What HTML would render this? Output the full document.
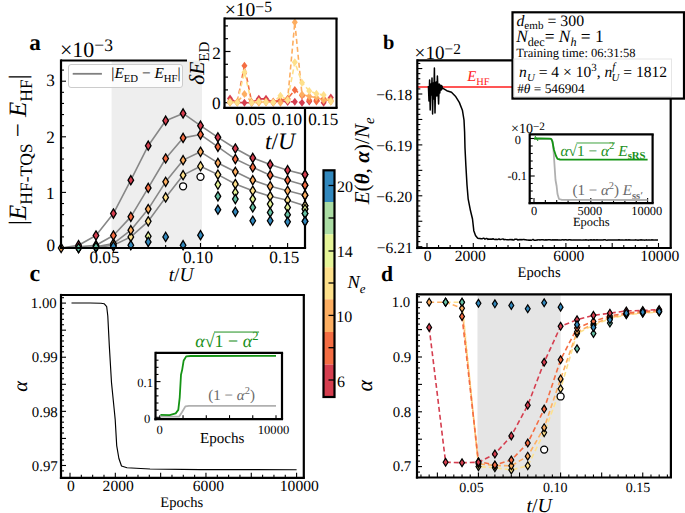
<!DOCTYPE html>
<html><head><meta charset="utf-8"><style>
html,body{margin:0;padding:0;background:#fff;overflow:hidden;}
svg{display:block;}
text{font-family:"Liberation Serif",serif;text-rendering:geometricPrecision;}
</style></head><body>
<svg width="685" height="513" viewBox="0 0 685 513">
<rect x="0" y="0" width="685" height="513" fill="#fff"/>
<rect x="111.6" y="60.5" width="90.4" height="187.5" fill="#eeeeee" stroke="none" stroke-width="0" />
<line x1="61.14" y1="248" x2="61.14" y2="245" stroke="#000" stroke-width="1.1" />
<line x1="78.56" y1="248" x2="78.56" y2="245" stroke="#000" stroke-width="1.1" />
<line x1="95.98" y1="248" x2="95.98" y2="245" stroke="#000" stroke-width="1.1" />
<line x1="113.4" y1="248" x2="113.4" y2="243" stroke="#000" stroke-width="1.1" />
<line x1="130.82" y1="248" x2="130.82" y2="245" stroke="#000" stroke-width="1.1" />
<line x1="148.24" y1="248" x2="148.24" y2="245" stroke="#000" stroke-width="1.1" />
<line x1="165.66" y1="248" x2="165.66" y2="245" stroke="#000" stroke-width="1.1" />
<line x1="183.08" y1="248" x2="183.08" y2="245" stroke="#000" stroke-width="1.1" />
<line x1="200.5" y1="248" x2="200.5" y2="243" stroke="#000" stroke-width="1.1" />
<line x1="217.92" y1="248" x2="217.92" y2="245" stroke="#000" stroke-width="1.1" />
<line x1="235.34" y1="248" x2="235.34" y2="245" stroke="#000" stroke-width="1.1" />
<line x1="252.76" y1="248" x2="252.76" y2="245" stroke="#000" stroke-width="1.1" />
<line x1="270.18" y1="248" x2="270.18" y2="245" stroke="#000" stroke-width="1.1" />
<line x1="287.6" y1="248" x2="287.6" y2="243" stroke="#000" stroke-width="1.1" />
<line x1="305.02" y1="248" x2="305.02" y2="245" stroke="#000" stroke-width="1.1" />
<line x1="61" y1="248" x2="66" y2="248" stroke="#000" stroke-width="1.1" />
<line x1="61" y1="236.88" x2="64" y2="236.88" stroke="#000" stroke-width="1.1" />
<line x1="61" y1="225.76" x2="64" y2="225.76" stroke="#000" stroke-width="1.1" />
<line x1="61" y1="214.64" x2="64" y2="214.64" stroke="#000" stroke-width="1.1" />
<line x1="61" y1="203.52" x2="64" y2="203.52" stroke="#000" stroke-width="1.1" />
<line x1="61" y1="192.4" x2="66" y2="192.4" stroke="#000" stroke-width="1.1" />
<line x1="61" y1="181.28" x2="64" y2="181.28" stroke="#000" stroke-width="1.1" />
<line x1="61" y1="170.16" x2="64" y2="170.16" stroke="#000" stroke-width="1.1" />
<line x1="61" y1="159.04" x2="64" y2="159.04" stroke="#000" stroke-width="1.1" />
<line x1="61" y1="147.92" x2="64" y2="147.92" stroke="#000" stroke-width="1.1" />
<line x1="61" y1="136.8" x2="66" y2="136.8" stroke="#000" stroke-width="1.1" />
<line x1="61" y1="125.68" x2="64" y2="125.68" stroke="#000" stroke-width="1.1" />
<line x1="61" y1="114.56" x2="64" y2="114.56" stroke="#000" stroke-width="1.1" />
<line x1="61" y1="103.44" x2="64" y2="103.44" stroke="#000" stroke-width="1.1" />
<line x1="61" y1="92.32" x2="64" y2="92.32" stroke="#000" stroke-width="1.1" />
<line x1="61" y1="81.2" x2="66" y2="81.2" stroke="#000" stroke-width="1.1" />
<line x1="61" y1="70.08" x2="64" y2="70.08" stroke="#000" stroke-width="1.1" />
<polyline points="61.14,248 78.56,245.22 95.98,235.49 113.4,213.53 130.82,180.17 148.24,145.7 165.66,120.68 183.08,113.45 200.5,125.68 217.92,137.36 235.34,148.48 252.76,157.93 270.18,164.6 287.6,170.16 305.02,174.61" fill="none" stroke="#878787" stroke-width="1.6" stroke-linejoin="round" />
<polyline points="61.14,248 78.56,246.89 95.98,245.22 113.4,235.49 130.82,216.86 148.24,187.95 165.66,158.48 183.08,137.91 200.5,134.58 217.92,146.81 235.34,159.04 252.76,167.38 270.18,175.16 287.6,180.17 305.02,185.17" fill="none" stroke="#878787" stroke-width="1.6" stroke-linejoin="round" />
<polyline points="61.14,248 78.56,248 95.98,246.89 113.4,243.55 130.82,230.21 148.24,209.08 165.66,181.84 183.08,160.15 200.5,151.81 217.92,162.93 235.34,171.83 252.76,180.17 270.18,186.28 287.6,190.73 305.02,195.18" fill="none" stroke="#878787" stroke-width="1.6" stroke-linejoin="round" />
<polyline points="61.14,248 78.56,248 95.98,247.44 113.4,245.22 130.82,236.88 148.24,221.31 165.66,197.4 183.08,175.16 200.5,166.27 217.92,174.61 235.34,184.06 252.76,190.73 270.18,196.29 287.6,200.18 305.02,205.74" fill="none" stroke="#878787" stroke-width="1.6" stroke-linejoin="round" />
<polygon points="61.14,243.4 63.94,248 61.14,252.6 58.34,248" fill="#fdae61" stroke="#000" stroke-width="1.3" stroke-linejoin="miter"/>
<polygon points="78.56,243.4 81.36,248 78.56,252.6 75.76,248" fill="#fee08b" stroke="#000" stroke-width="1.3" stroke-linejoin="miter"/>
<polygon points="78.56,243.4 81.36,248 78.56,252.6 75.76,248" fill="#fdae61" stroke="#000" stroke-width="1.3" stroke-linejoin="miter"/>
<polygon points="78.56,242.29 81.36,246.89 78.56,251.49 75.76,246.89" fill="#f46d43" stroke="#000" stroke-width="1.3" stroke-linejoin="miter"/>
<polygon points="78.56,240.62 81.36,245.22 78.56,249.82 75.76,245.22" fill="#d53e4f" stroke="#000" stroke-width="1.3" stroke-linejoin="miter"/>
<polygon points="95.98,242.84 98.78,247.44 95.98,252.04 93.18,247.44" fill="#fee08b" stroke="#000" stroke-width="1.3" stroke-linejoin="miter"/>
<polygon points="95.98,242.29 98.78,246.89 95.98,251.49 93.18,246.89" fill="#fdae61" stroke="#000" stroke-width="1.3" stroke-linejoin="miter"/>
<polygon points="95.98,240.62 98.78,245.22 95.98,249.82 93.18,245.22" fill="#f46d43" stroke="#000" stroke-width="1.3" stroke-linejoin="miter"/>
<polygon points="95.98,230.89 98.78,235.49 95.98,240.09 93.18,235.49" fill="#d53e4f" stroke="#000" stroke-width="1.3" stroke-linejoin="miter"/>
<polygon points="113.4,240.62 116.2,245.22 113.4,249.82 110.6,245.22" fill="#fee08b" stroke="#000" stroke-width="1.3" stroke-linejoin="miter"/>
<polygon points="113.4,238.95 116.2,243.55 113.4,248.15 110.6,243.55" fill="#fdae61" stroke="#000" stroke-width="1.3" stroke-linejoin="miter"/>
<polygon points="113.4,230.89 116.2,235.49 113.4,240.09 110.6,235.49" fill="#f46d43" stroke="#000" stroke-width="1.3" stroke-linejoin="miter"/>
<polygon points="113.4,208.93 116.2,213.53 113.4,218.13 110.6,213.53" fill="#d53e4f" stroke="#000" stroke-width="1.3" stroke-linejoin="miter"/>
<polygon points="130.82,232.28 133.62,236.88 130.82,241.48 128.02,236.88" fill="#fee08b" stroke="#000" stroke-width="1.3" stroke-linejoin="miter"/>
<polygon points="130.82,225.61 133.62,230.21 130.82,234.81 128.02,230.21" fill="#fdae61" stroke="#000" stroke-width="1.3" stroke-linejoin="miter"/>
<polygon points="130.82,212.26 133.62,216.86 130.82,221.46 128.02,216.86" fill="#f46d43" stroke="#000" stroke-width="1.3" stroke-linejoin="miter"/>
<polygon points="130.82,175.57 133.62,180.17 130.82,184.77 128.02,180.17" fill="#d53e4f" stroke="#000" stroke-width="1.3" stroke-linejoin="miter"/>
<polygon points="148.24,216.71 151.04,221.31 148.24,225.91 145.44,221.31" fill="#fee08b" stroke="#000" stroke-width="1.3" stroke-linejoin="miter"/>
<polygon points="148.24,204.48 151.04,209.08 148.24,213.68 145.44,209.08" fill="#fdae61" stroke="#000" stroke-width="1.3" stroke-linejoin="miter"/>
<polygon points="148.24,183.35 151.04,187.95 148.24,192.55 145.44,187.95" fill="#f46d43" stroke="#000" stroke-width="1.3" stroke-linejoin="miter"/>
<polygon points="148.24,141.1 151.04,145.7 148.24,150.3 145.44,145.7" fill="#d53e4f" stroke="#000" stroke-width="1.3" stroke-linejoin="miter"/>
<polygon points="165.66,192.8 168.46,197.4 165.66,202 162.86,197.4" fill="#fee08b" stroke="#000" stroke-width="1.3" stroke-linejoin="miter"/>
<polygon points="165.66,177.24 168.46,181.84 165.66,186.44 162.86,181.84" fill="#fdae61" stroke="#000" stroke-width="1.3" stroke-linejoin="miter"/>
<polygon points="165.66,153.88 168.46,158.48 165.66,163.08 162.86,158.48" fill="#f46d43" stroke="#000" stroke-width="1.3" stroke-linejoin="miter"/>
<polygon points="165.66,116.08 168.46,120.68 165.66,125.28 162.86,120.68" fill="#d53e4f" stroke="#000" stroke-width="1.3" stroke-linejoin="miter"/>
<polygon points="183.08,170.56 185.88,175.16 183.08,179.76 180.28,175.16" fill="#fee08b" stroke="#000" stroke-width="1.3" stroke-linejoin="miter"/>
<polygon points="183.08,155.55 185.88,160.15 183.08,164.75 180.28,160.15" fill="#fdae61" stroke="#000" stroke-width="1.3" stroke-linejoin="miter"/>
<polygon points="183.08,133.31 185.88,137.91 183.08,142.51 180.28,137.91" fill="#f46d43" stroke="#000" stroke-width="1.3" stroke-linejoin="miter"/>
<polygon points="183.08,108.85 185.88,113.45 183.08,118.05 180.28,113.45" fill="#d53e4f" stroke="#000" stroke-width="1.3" stroke-linejoin="miter"/>
<polygon points="200.5,161.67 203.3,166.27 200.5,170.87 197.7,166.27" fill="#fee08b" stroke="#000" stroke-width="1.3" stroke-linejoin="miter"/>
<polygon points="200.5,147.21 203.3,151.81 200.5,156.41 197.7,151.81" fill="#fdae61" stroke="#000" stroke-width="1.3" stroke-linejoin="miter"/>
<polygon points="200.5,129.98 203.3,134.58 200.5,139.18 197.7,134.58" fill="#f46d43" stroke="#000" stroke-width="1.3" stroke-linejoin="miter"/>
<polygon points="200.5,121.08 203.3,125.68 200.5,130.28 197.7,125.68" fill="#d53e4f" stroke="#000" stroke-width="1.3" stroke-linejoin="miter"/>
<polygon points="217.92,170.01 220.72,174.61 217.92,179.21 215.12,174.61" fill="#fee08b" stroke="#000" stroke-width="1.3" stroke-linejoin="miter"/>
<polygon points="217.92,158.33 220.72,162.93 217.92,167.53 215.12,162.93" fill="#fdae61" stroke="#000" stroke-width="1.3" stroke-linejoin="miter"/>
<polygon points="217.92,142.21 220.72,146.81 217.92,151.41 215.12,146.81" fill="#f46d43" stroke="#000" stroke-width="1.3" stroke-linejoin="miter"/>
<polygon points="217.92,132.76 220.72,137.36 217.92,141.96 215.12,137.36" fill="#d53e4f" stroke="#000" stroke-width="1.3" stroke-linejoin="miter"/>
<polygon points="235.34,179.46 238.14,184.06 235.34,188.66 232.54,184.06" fill="#fee08b" stroke="#000" stroke-width="1.3" stroke-linejoin="miter"/>
<polygon points="235.34,167.23 238.14,171.83 235.34,176.43 232.54,171.83" fill="#fdae61" stroke="#000" stroke-width="1.3" stroke-linejoin="miter"/>
<polygon points="235.34,154.44 238.14,159.04 235.34,163.64 232.54,159.04" fill="#f46d43" stroke="#000" stroke-width="1.3" stroke-linejoin="miter"/>
<polygon points="235.34,143.88 238.14,148.48 235.34,153.08 232.54,148.48" fill="#d53e4f" stroke="#000" stroke-width="1.3" stroke-linejoin="miter"/>
<polygon points="252.76,186.13 255.56,190.73 252.76,195.33 249.96,190.73" fill="#fee08b" stroke="#000" stroke-width="1.3" stroke-linejoin="miter"/>
<polygon points="252.76,175.57 255.56,180.17 252.76,184.77 249.96,180.17" fill="#fdae61" stroke="#000" stroke-width="1.3" stroke-linejoin="miter"/>
<polygon points="252.76,162.78 255.56,167.38 252.76,171.98 249.96,167.38" fill="#f46d43" stroke="#000" stroke-width="1.3" stroke-linejoin="miter"/>
<polygon points="252.76,153.33 255.56,157.93 252.76,162.53 249.96,157.93" fill="#d53e4f" stroke="#000" stroke-width="1.3" stroke-linejoin="miter"/>
<polygon points="270.18,191.69 272.98,196.29 270.18,200.89 267.38,196.29" fill="#fee08b" stroke="#000" stroke-width="1.3" stroke-linejoin="miter"/>
<polygon points="270.18,181.68 272.98,186.28 270.18,190.88 267.38,186.28" fill="#fdae61" stroke="#000" stroke-width="1.3" stroke-linejoin="miter"/>
<polygon points="270.18,170.56 272.98,175.16 270.18,179.76 267.38,175.16" fill="#f46d43" stroke="#000" stroke-width="1.3" stroke-linejoin="miter"/>
<polygon points="270.18,160 272.98,164.6 270.18,169.2 267.38,164.6" fill="#d53e4f" stroke="#000" stroke-width="1.3" stroke-linejoin="miter"/>
<polygon points="287.6,195.58 290.4,200.18 287.6,204.78 284.8,200.18" fill="#fee08b" stroke="#000" stroke-width="1.3" stroke-linejoin="miter"/>
<polygon points="287.6,186.13 290.4,190.73 287.6,195.33 284.8,190.73" fill="#fdae61" stroke="#000" stroke-width="1.3" stroke-linejoin="miter"/>
<polygon points="287.6,175.57 290.4,180.17 287.6,184.77 284.8,180.17" fill="#f46d43" stroke="#000" stroke-width="1.3" stroke-linejoin="miter"/>
<polygon points="287.6,165.56 290.4,170.16 287.6,174.76 284.8,170.16" fill="#d53e4f" stroke="#000" stroke-width="1.3" stroke-linejoin="miter"/>
<polygon points="305.02,201.14 307.82,205.74 305.02,210.34 302.22,205.74" fill="#fee08b" stroke="#000" stroke-width="1.3" stroke-linejoin="miter"/>
<polygon points="305.02,190.58 307.82,195.18 305.02,199.78 302.22,195.18" fill="#fdae61" stroke="#000" stroke-width="1.3" stroke-linejoin="miter"/>
<polygon points="305.02,180.57 307.82,185.17 305.02,189.77 302.22,185.17" fill="#f46d43" stroke="#000" stroke-width="1.3" stroke-linejoin="miter"/>
<polygon points="305.02,170.01 307.82,174.61 305.02,179.21 302.22,174.61" fill="#d53e4f" stroke="#000" stroke-width="1.3" stroke-linejoin="miter"/>
<polygon points="78.56,243.4 81.36,248 78.56,252.6 75.76,248" fill="#66c2a5" stroke="#000" stroke-width="1.3" stroke-linejoin="miter"/>
<polygon points="95.98,242.29 98.78,246.89 95.98,251.49 93.18,246.89" fill="#66c2a5" stroke="#000" stroke-width="1.3" stroke-linejoin="miter"/>
<polygon points="113.4,241.73 116.2,246.33 113.4,250.93 110.6,246.33" fill="#3288bd" stroke="#000" stroke-width="1.3" stroke-linejoin="miter"/>
<polygon points="130.82,240.62 133.62,245.22 130.82,249.82 128.02,245.22" fill="#3288bd" stroke="#000" stroke-width="1.3" stroke-linejoin="miter"/>
<polygon points="148.24,231.72 151.04,236.32 148.24,240.92 145.44,236.32" fill="#e6f598" stroke="#000" stroke-width="1.3" stroke-linejoin="miter"/>
<polygon points="148.24,237.28 151.04,241.88 148.24,246.48 145.44,241.88" fill="#3288bd" stroke="#000" stroke-width="1.3" stroke-linejoin="miter"/>
<polygon points="165.66,232.28 168.46,236.88 165.66,241.48 162.86,236.88" fill="#3288bd" stroke="#000" stroke-width="1.3" stroke-linejoin="miter"/>
<polygon points="183.08,240.62 185.88,245.22 183.08,249.82 180.28,245.22" fill="#3288bd" stroke="#000" stroke-width="1.3" stroke-linejoin="miter"/>
<polygon points="200.5,230.61 203.3,235.21 200.5,239.81 197.7,235.21" fill="#3288bd" stroke="#000" stroke-width="1.3" stroke-linejoin="miter"/>
<polygon points="217.92,180.02 220.72,184.62 217.92,189.22 215.12,184.62" fill="#e6f598" stroke="#000" stroke-width="1.3" stroke-linejoin="miter"/>
<polygon points="217.92,191.69 220.72,196.29 217.92,200.89 215.12,196.29" fill="#66c2a5" stroke="#000" stroke-width="1.3" stroke-linejoin="miter"/>
<polygon points="217.92,205.04 220.72,209.64 217.92,214.24 215.12,209.64" fill="#3288bd" stroke="#000" stroke-width="1.3" stroke-linejoin="miter"/>
<polygon points="235.34,187.8 238.14,192.4 235.34,197 232.54,192.4" fill="#e6f598" stroke="#000" stroke-width="1.3" stroke-linejoin="miter"/>
<polygon points="235.34,194.47 238.14,199.07 235.34,203.67 232.54,199.07" fill="#66c2a5" stroke="#000" stroke-width="1.3" stroke-linejoin="miter"/>
<polygon points="235.34,207.26 238.14,211.86 235.34,216.46 232.54,211.86" fill="#3288bd" stroke="#000" stroke-width="1.3" stroke-linejoin="miter"/>
<polygon points="252.76,194.47 255.56,199.07 252.76,203.67 249.96,199.07" fill="#e6f598" stroke="#000" stroke-width="1.3" stroke-linejoin="miter"/>
<polygon points="252.76,202.81 255.56,207.41 252.76,212.01 249.96,207.41" fill="#66c2a5" stroke="#000" stroke-width="1.3" stroke-linejoin="miter"/>
<polygon points="252.76,216.16 255.56,220.76 252.76,225.36 249.96,220.76" fill="#3288bd" stroke="#000" stroke-width="1.3" stroke-linejoin="miter"/>
<polygon points="270.18,199.48 272.98,204.08 270.18,208.68 267.38,204.08" fill="#e6f598" stroke="#000" stroke-width="1.3" stroke-linejoin="miter"/>
<polygon points="270.18,207.82 272.98,212.42 270.18,217.02 267.38,212.42" fill="#66c2a5" stroke="#000" stroke-width="1.3" stroke-linejoin="miter"/>
<polygon points="270.18,216.16 272.98,220.76 270.18,225.36 267.38,220.76" fill="#3288bd" stroke="#000" stroke-width="1.3" stroke-linejoin="miter"/>
<polygon points="287.6,202.81 290.4,207.41 287.6,212.01 284.8,207.41" fill="#e6f598" stroke="#000" stroke-width="1.3" stroke-linejoin="miter"/>
<polygon points="287.6,210.04 290.4,214.64 287.6,219.24 284.8,214.64" fill="#66c2a5" stroke="#000" stroke-width="1.3" stroke-linejoin="miter"/>
<polygon points="287.6,217.27 290.4,221.87 287.6,226.47 284.8,221.87" fill="#3288bd" stroke="#000" stroke-width="1.3" stroke-linejoin="miter"/>
<polygon points="305.02,204.48 307.82,209.08 305.02,213.68 302.22,209.08" fill="#e6f598" stroke="#000" stroke-width="1.3" stroke-linejoin="miter"/>
<polygon points="305.02,208.93 307.82,213.53 305.02,218.13 302.22,213.53" fill="#66c2a5" stroke="#000" stroke-width="1.3" stroke-linejoin="miter"/>
<polygon points="305.02,216.71 307.82,221.31 305.02,225.91 302.22,221.31" fill="#3288bd" stroke="#000" stroke-width="1.3" stroke-linejoin="miter"/>
<circle cx="183.08" cy="186.28" r="3.5" fill="#fff" stroke="#000" stroke-width="1.3"/>
<circle cx="200.5" cy="176.83" r="3.5" fill="#fff" stroke="#000" stroke-width="1.3"/>
<rect x="68.5" y="64.5" width="114" height="23" fill="#ffffff" stroke="#cccccc" stroke-width="1" rx="2.5" fill-opacity="0.8"/>
<line x1="72.7" y1="73.8" x2="101.9" y2="73.8" stroke="#808080" stroke-width="1.8" />
<line x1="61" y1="60.5" x2="187" y2="60.5" stroke="#000" stroke-width="2.2" />
<line x1="61" y1="59.4" x2="61" y2="249.1" stroke="#000" stroke-width="2.2" />
<line x1="59.9" y1="248" x2="306.1" y2="248" stroke="#000" stroke-width="2.2" />
<line x1="305" y1="108" x2="305" y2="248" stroke="#000" stroke-width="2.2" />
<polygon points="305.02,201.14 307.82,205.74 305.02,210.34 302.22,205.74" fill="#fee08b" stroke="#000" stroke-width="1.3" stroke-linejoin="miter"/>
<polygon points="305.02,190.58 307.82,195.18 305.02,199.78 302.22,195.18" fill="#fdae61" stroke="#000" stroke-width="1.3" stroke-linejoin="miter"/>
<polygon points="305.02,180.57 307.82,185.17 305.02,189.77 302.22,185.17" fill="#f46d43" stroke="#000" stroke-width="1.3" stroke-linejoin="miter"/>
<polygon points="305.02,170.01 307.82,174.61 305.02,179.21 302.22,174.61" fill="#d53e4f" stroke="#000" stroke-width="1.3" stroke-linejoin="miter"/>
<polygon points="305.02,204.48 307.82,209.08 305.02,213.68 302.22,209.08" fill="#e6f598" stroke="#000" stroke-width="1.3" stroke-linejoin="miter"/>
<polygon points="305.02,208.93 307.82,213.53 305.02,218.13 302.22,213.53" fill="#66c2a5" stroke="#000" stroke-width="1.3" stroke-linejoin="miter"/>
<polygon points="305.02,216.71 307.82,221.31 305.02,225.91 302.22,221.31" fill="#3288bd" stroke="#000" stroke-width="1.3" stroke-linejoin="miter"/>
<rect x="224.5" y="18.5" width="112" height="89.3" fill="#fff" stroke="none" stroke-width="0" />
<line x1="224.5" y1="102.7" x2="230.5" y2="102.7" stroke="#000" stroke-width="1.2" />
<line x1="224.5" y1="89.9" x2="228" y2="89.9" stroke="#000" stroke-width="1.2" />
<line x1="224.5" y1="77.1" x2="228" y2="77.1" stroke="#000" stroke-width="1.2" />
<line x1="224.5" y1="64.3" x2="228" y2="64.3" stroke="#000" stroke-width="1.2" />
<line x1="224.5" y1="51.5" x2="230.5" y2="51.5" stroke="#000" stroke-width="1.2" />
<line x1="224.5" y1="38.7" x2="228" y2="38.7" stroke="#000" stroke-width="1.2" />
<line x1="224.5" y1="25.9" x2="228" y2="25.9" stroke="#000" stroke-width="1.2" />
<polyline points="230.02,98.6 237.22,102.44 244.42,102.7 251.62,102.7 258.82,98.86 266.02,98.86 273.22,102.44 280.42,100.65 287.62,101.93 294.82,101.68 302.02,102.7 309.22,101.42 316.42,100.14 323.62,102.7 330.82,97.58" fill="none" stroke="#d53e4f" stroke-width="1.6" stroke-linejoin="round" stroke-dasharray="5,3"/>
<polyline points="230.02,101.42 237.22,102.19 244.42,65.84 251.62,101.93 258.82,101.42 266.02,102.19 273.22,101.42 280.42,100.14 287.62,98.86 294.82,89.9 302.02,95.53 309.22,100.14 316.42,101.42 323.62,98.86 330.82,101.42" fill="none" stroke="#f46d43" stroke-width="1.6" stroke-linejoin="round" stroke-dasharray="5,3"/>
<polyline points="230.02,102.7 237.22,101.93 244.42,94 251.62,102.19 258.82,102.7 266.02,101.42 273.22,102.7 280.42,102.7 287.62,99.63 294.82,22.32 302.02,94.51 309.22,96.3 316.42,97.58 323.62,100.14 330.82,100.14" fill="none" stroke="#fdae61" stroke-width="1.6" stroke-linejoin="round" stroke-dasharray="5,3"/>
<polyline points="230.02,101.93 237.22,102.7 244.42,72.24 251.62,102.7 258.82,101.42 266.02,102.19 273.22,102.19 280.42,95.79 287.62,100.14 294.82,62.25 302.02,82.73 309.22,90.92 316.42,93.74 323.62,95.02 330.82,101.42" fill="none" stroke="#fee08b" stroke-width="1.6" stroke-linejoin="round" stroke-dasharray="5,3"/>
<polygon points="230.02,94.6 233.02,98.6 230.02,102.6 227.02,98.6" fill="#d53e4f"/>
<polygon points="237.22,98.44 240.22,102.44 237.22,106.44 234.22,102.44" fill="#d53e4f"/>
<polygon points="244.42,98.7 247.42,102.7 244.42,106.7 241.42,102.7" fill="#d53e4f"/>
<polygon points="251.62,98.7 254.62,102.7 251.62,106.7 248.62,102.7" fill="#d53e4f"/>
<polygon points="258.82,94.86 261.82,98.86 258.82,102.86 255.82,98.86" fill="#d53e4f"/>
<polygon points="266.02,94.86 269.02,98.86 266.02,102.86 263.02,98.86" fill="#d53e4f"/>
<polygon points="273.22,98.44 276.22,102.44 273.22,106.44 270.22,102.44" fill="#d53e4f"/>
<polygon points="280.42,96.65 283.42,100.65 280.42,104.65 277.42,100.65" fill="#d53e4f"/>
<polygon points="287.62,97.93 290.62,101.93 287.62,105.93 284.62,101.93" fill="#d53e4f"/>
<polygon points="294.82,97.68 297.82,101.68 294.82,105.68 291.82,101.68" fill="#d53e4f"/>
<polygon points="302.02,98.7 305.02,102.7 302.02,106.7 299.02,102.7" fill="#d53e4f"/>
<polygon points="309.22,97.42 312.22,101.42 309.22,105.42 306.22,101.42" fill="#d53e4f"/>
<polygon points="316.42,96.14 319.42,100.14 316.42,104.14 313.42,100.14" fill="#d53e4f"/>
<polygon points="323.62,98.7 326.62,102.7 323.62,106.7 320.62,102.7" fill="#d53e4f"/>
<polygon points="330.82,93.58 333.82,97.58 330.82,101.58 327.82,97.58" fill="#d53e4f"/>
<polygon points="230.02,97.42 233.02,101.42 230.02,105.42 227.02,101.42" fill="#f46d43"/>
<polygon points="237.22,98.19 240.22,102.19 237.22,106.19 234.22,102.19" fill="#f46d43"/>
<polygon points="244.42,61.84 247.42,65.84 244.42,69.84 241.42,65.84" fill="#f46d43"/>
<polygon points="251.62,97.93 254.62,101.93 251.62,105.93 248.62,101.93" fill="#f46d43"/>
<polygon points="258.82,97.42 261.82,101.42 258.82,105.42 255.82,101.42" fill="#f46d43"/>
<polygon points="266.02,98.19 269.02,102.19 266.02,106.19 263.02,102.19" fill="#f46d43"/>
<polygon points="273.22,97.42 276.22,101.42 273.22,105.42 270.22,101.42" fill="#f46d43"/>
<polygon points="280.42,96.14 283.42,100.14 280.42,104.14 277.42,100.14" fill="#f46d43"/>
<polygon points="287.62,94.86 290.62,98.86 287.62,102.86 284.62,98.86" fill="#f46d43"/>
<polygon points="294.82,85.9 297.82,89.9 294.82,93.9 291.82,89.9" fill="#f46d43"/>
<polygon points="302.02,91.53 305.02,95.53 302.02,99.53 299.02,95.53" fill="#f46d43"/>
<polygon points="309.22,96.14 312.22,100.14 309.22,104.14 306.22,100.14" fill="#f46d43"/>
<polygon points="316.42,97.42 319.42,101.42 316.42,105.42 313.42,101.42" fill="#f46d43"/>
<polygon points="323.62,94.86 326.62,98.86 323.62,102.86 320.62,98.86" fill="#f46d43"/>
<polygon points="330.82,97.42 333.82,101.42 330.82,105.42 327.82,101.42" fill="#f46d43"/>
<polygon points="230.02,98.7 233.02,102.7 230.02,106.7 227.02,102.7" fill="#fdae61"/>
<polygon points="237.22,97.93 240.22,101.93 237.22,105.93 234.22,101.93" fill="#fdae61"/>
<polygon points="244.42,90 247.42,94 244.42,98 241.42,94" fill="#fdae61"/>
<polygon points="251.62,98.19 254.62,102.19 251.62,106.19 248.62,102.19" fill="#fdae61"/>
<polygon points="258.82,98.7 261.82,102.7 258.82,106.7 255.82,102.7" fill="#fdae61"/>
<polygon points="266.02,97.42 269.02,101.42 266.02,105.42 263.02,101.42" fill="#fdae61"/>
<polygon points="273.22,98.7 276.22,102.7 273.22,106.7 270.22,102.7" fill="#fdae61"/>
<polygon points="280.42,98.7 283.42,102.7 280.42,106.7 277.42,102.7" fill="#fdae61"/>
<polygon points="287.62,95.63 290.62,99.63 287.62,103.63 284.62,99.63" fill="#fdae61"/>
<polygon points="294.82,18.32 297.82,22.32 294.82,26.32 291.82,22.32" fill="#fdae61"/>
<polygon points="302.02,90.51 305.02,94.51 302.02,98.51 299.02,94.51" fill="#fdae61"/>
<polygon points="309.22,92.3 312.22,96.3 309.22,100.3 306.22,96.3" fill="#fdae61"/>
<polygon points="316.42,93.58 319.42,97.58 316.42,101.58 313.42,97.58" fill="#fdae61"/>
<polygon points="323.62,96.14 326.62,100.14 323.62,104.14 320.62,100.14" fill="#fdae61"/>
<polygon points="330.82,96.14 333.82,100.14 330.82,104.14 327.82,100.14" fill="#fdae61"/>
<polygon points="230.02,97.93 233.02,101.93 230.02,105.93 227.02,101.93" fill="#fee08b"/>
<polygon points="237.22,98.7 240.22,102.7 237.22,106.7 234.22,102.7" fill="#fee08b"/>
<polygon points="244.42,68.24 247.42,72.24 244.42,76.24 241.42,72.24" fill="#fee08b"/>
<polygon points="251.62,98.7 254.62,102.7 251.62,106.7 248.62,102.7" fill="#fee08b"/>
<polygon points="258.82,97.42 261.82,101.42 258.82,105.42 255.82,101.42" fill="#fee08b"/>
<polygon points="266.02,98.19 269.02,102.19 266.02,106.19 263.02,102.19" fill="#fee08b"/>
<polygon points="273.22,98.19 276.22,102.19 273.22,106.19 270.22,102.19" fill="#fee08b"/>
<polygon points="280.42,91.79 283.42,95.79 280.42,99.79 277.42,95.79" fill="#fee08b"/>
<polygon points="287.62,96.14 290.62,100.14 287.62,104.14 284.62,100.14" fill="#fee08b"/>
<polygon points="294.82,58.25 297.82,62.25 294.82,66.25 291.82,62.25" fill="#fee08b"/>
<polygon points="302.02,78.73 305.02,82.73 302.02,86.73 299.02,82.73" fill="#fee08b"/>
<polygon points="309.22,86.92 312.22,90.92 309.22,94.92 306.22,90.92" fill="#fee08b"/>
<polygon points="316.42,89.74 319.42,93.74 316.42,97.74 313.42,93.74" fill="#fee08b"/>
<polygon points="323.62,91.02 326.62,95.02 323.62,99.02 320.62,95.02" fill="#fee08b"/>
<polygon points="330.82,97.42 333.82,101.42 330.82,105.42 327.82,101.42" fill="#fee08b"/>
<line x1="224.5" y1="18.5" x2="337.6" y2="18.5" stroke="#000" stroke-width="2.2" />
<line x1="224.5" y1="17.4" x2="224.5" y2="108.9" stroke="#000" stroke-width="2.2" />
<line x1="223.4" y1="107.8" x2="337.6" y2="107.8" stroke="#000" stroke-width="2.2" />
<line x1="336.5" y1="18.5" x2="336.5" y2="107.8" stroke="#000" stroke-width="2.2" />
<rect x="323.5" y="170.5" width="11" height="31.5" fill="#3288bd" stroke="none" stroke-width="0" />
<rect x="323.5" y="202" width="11" height="32.4" fill="#abdda4" stroke="none" stroke-width="0" />
<rect x="323.5" y="234.4" width="11" height="32.8" fill="#e6f598" stroke="none" stroke-width="0" />
<rect x="323.5" y="267.2" width="11" height="32.1" fill="#fee08b" stroke="none" stroke-width="0" />
<rect x="323.5" y="299.3" width="11" height="32.7" fill="#fdae61" stroke="none" stroke-width="0" />
<rect x="323.5" y="332" width="11" height="32.6" fill="#f46d43" stroke="none" stroke-width="0" />
<rect x="323.5" y="364.6" width="11" height="32.4" fill="#d53e4f" stroke="none" stroke-width="0" />
<rect x="323.5" y="170.3" width="11" height="226.7" fill="none" stroke="#000" stroke-width="2.2" />
<line x1="328.5" y1="185.5" x2="334.5" y2="185.5" stroke="#000" stroke-width="1.3" />
<line x1="328.5" y1="218" x2="334.5" y2="218" stroke="#000" stroke-width="1.3" />
<line x1="328.5" y1="251" x2="334.5" y2="251" stroke="#000" stroke-width="1.3" />
<line x1="328.5" y1="283" x2="334.5" y2="283" stroke="#000" stroke-width="1.3" />
<line x1="328.5" y1="315.4" x2="334.5" y2="315.4" stroke="#000" stroke-width="1.3" />
<line x1="328.5" y1="347.7" x2="334.5" y2="347.7" stroke="#000" stroke-width="1.3" />
<line x1="328.5" y1="380" x2="334.5" y2="380" stroke="#000" stroke-width="1.3" />
<line x1="417.3" y1="86.9" x2="670.7" y2="86.9" stroke="#ff5555" stroke-width="2" />
<line x1="417.3" y1="246.7" x2="422.3" y2="246.7" stroke="#000" stroke-width="1.1" />
<line x1="417.3" y1="241.61" x2="420.3" y2="241.61" stroke="#000" stroke-width="1.1" />
<line x1="417.3" y1="236.52" x2="420.3" y2="236.52" stroke="#000" stroke-width="1.1" />
<line x1="417.3" y1="231.43" x2="420.3" y2="231.43" stroke="#000" stroke-width="1.1" />
<line x1="417.3" y1="226.34" x2="420.3" y2="226.34" stroke="#000" stroke-width="1.1" />
<line x1="417.3" y1="221.25" x2="422.3" y2="221.25" stroke="#000" stroke-width="1.1" />
<line x1="417.3" y1="216.16" x2="420.3" y2="216.16" stroke="#000" stroke-width="1.1" />
<line x1="417.3" y1="211.07" x2="420.3" y2="211.07" stroke="#000" stroke-width="1.1" />
<line x1="417.3" y1="205.98" x2="420.3" y2="205.98" stroke="#000" stroke-width="1.1" />
<line x1="417.3" y1="200.89" x2="420.3" y2="200.89" stroke="#000" stroke-width="1.1" />
<line x1="417.3" y1="195.8" x2="422.3" y2="195.8" stroke="#000" stroke-width="1.1" />
<line x1="417.3" y1="190.71" x2="420.3" y2="190.71" stroke="#000" stroke-width="1.1" />
<line x1="417.3" y1="185.62" x2="420.3" y2="185.62" stroke="#000" stroke-width="1.1" />
<line x1="417.3" y1="180.53" x2="420.3" y2="180.53" stroke="#000" stroke-width="1.1" />
<line x1="417.3" y1="175.44" x2="420.3" y2="175.44" stroke="#000" stroke-width="1.1" />
<line x1="417.3" y1="170.35" x2="422.3" y2="170.35" stroke="#000" stroke-width="1.1" />
<line x1="417.3" y1="165.26" x2="420.3" y2="165.26" stroke="#000" stroke-width="1.1" />
<line x1="417.3" y1="160.17" x2="420.3" y2="160.17" stroke="#000" stroke-width="1.1" />
<line x1="417.3" y1="155.08" x2="420.3" y2="155.08" stroke="#000" stroke-width="1.1" />
<line x1="417.3" y1="149.99" x2="420.3" y2="149.99" stroke="#000" stroke-width="1.1" />
<line x1="417.3" y1="144.9" x2="422.3" y2="144.9" stroke="#000" stroke-width="1.1" />
<line x1="417.3" y1="139.81" x2="420.3" y2="139.81" stroke="#000" stroke-width="1.1" />
<line x1="417.3" y1="134.72" x2="420.3" y2="134.72" stroke="#000" stroke-width="1.1" />
<line x1="417.3" y1="129.63" x2="420.3" y2="129.63" stroke="#000" stroke-width="1.1" />
<line x1="417.3" y1="124.54" x2="420.3" y2="124.54" stroke="#000" stroke-width="1.1" />
<line x1="417.3" y1="119.45" x2="422.3" y2="119.45" stroke="#000" stroke-width="1.1" />
<line x1="417.3" y1="114.36" x2="420.3" y2="114.36" stroke="#000" stroke-width="1.1" />
<line x1="417.3" y1="109.27" x2="420.3" y2="109.27" stroke="#000" stroke-width="1.1" />
<line x1="417.3" y1="104.18" x2="420.3" y2="104.18" stroke="#000" stroke-width="1.1" />
<line x1="417.3" y1="99.09" x2="420.3" y2="99.09" stroke="#000" stroke-width="1.1" />
<line x1="417.3" y1="94" x2="422.3" y2="94" stroke="#000" stroke-width="1.1" />
<line x1="417.3" y1="88.91" x2="420.3" y2="88.91" stroke="#000" stroke-width="1.1" />
<line x1="417.3" y1="83.82" x2="420.3" y2="83.82" stroke="#000" stroke-width="1.1" />
<line x1="417.3" y1="78.73" x2="420.3" y2="78.73" stroke="#000" stroke-width="1.1" />
<line x1="417.3" y1="73.64" x2="420.3" y2="73.64" stroke="#000" stroke-width="1.1" />
<line x1="417.3" y1="68.55" x2="422.3" y2="68.55" stroke="#000" stroke-width="1.1" />
<line x1="417.3" y1="63.46" x2="420.3" y2="63.46" stroke="#000" stroke-width="1.1" />
<line x1="427" y1="248" x2="427" y2="243" stroke="#000" stroke-width="1.1" />
<line x1="438.57" y1="248" x2="438.57" y2="245" stroke="#000" stroke-width="1.1" />
<line x1="450.15" y1="248" x2="450.15" y2="245" stroke="#000" stroke-width="1.1" />
<line x1="461.73" y1="248" x2="461.73" y2="245" stroke="#000" stroke-width="1.1" />
<line x1="473.3" y1="248" x2="473.3" y2="243" stroke="#000" stroke-width="1.1" />
<line x1="484.88" y1="248" x2="484.88" y2="245" stroke="#000" stroke-width="1.1" />
<line x1="496.45" y1="248" x2="496.45" y2="245" stroke="#000" stroke-width="1.1" />
<line x1="508.02" y1="248" x2="508.02" y2="245" stroke="#000" stroke-width="1.1" />
<line x1="519.6" y1="248" x2="519.6" y2="243" stroke="#000" stroke-width="1.1" />
<line x1="531.17" y1="248" x2="531.17" y2="245" stroke="#000" stroke-width="1.1" />
<line x1="542.75" y1="248" x2="542.75" y2="245" stroke="#000" stroke-width="1.1" />
<line x1="554.33" y1="248" x2="554.33" y2="245" stroke="#000" stroke-width="1.1" />
<line x1="565.9" y1="248" x2="565.9" y2="243" stroke="#000" stroke-width="1.1" />
<line x1="577.48" y1="248" x2="577.48" y2="245" stroke="#000" stroke-width="1.1" />
<line x1="589.05" y1="248" x2="589.05" y2="245" stroke="#000" stroke-width="1.1" />
<line x1="600.62" y1="248" x2="600.62" y2="245" stroke="#000" stroke-width="1.1" />
<line x1="612.2" y1="248" x2="612.2" y2="243" stroke="#000" stroke-width="1.1" />
<line x1="623.77" y1="248" x2="623.77" y2="245" stroke="#000" stroke-width="1.1" />
<line x1="635.35" y1="248" x2="635.35" y2="245" stroke="#000" stroke-width="1.1" />
<line x1="646.92" y1="248" x2="646.92" y2="245" stroke="#000" stroke-width="1.1" />
<line x1="658.5" y1="248" x2="658.5" y2="243" stroke="#000" stroke-width="1.1" />
<polyline points="428.4,86 429,101 429.6,80 430.2,110 430.8,84 431.4,95 432,78 432.6,114 433.2,83 433.8,99 434.4,68 435,113 435.6,85 436.2,82 436.8,96 437.4,76 438,91 438.6,104 439.2,84 439.8,93 440.4,86 441,90 441.6,87 442.2,88.5 443,88.4 446.8,90.7 451.5,92.3 455.4,96.2 459.3,102.4 462.4,110.2 464,120 464.6,132 465,148 465.9,166 467,185 468.2,199.2 470.5,210.8 472.5,219 473.8,230.7 475.5,235.5 477.5,238 478,238.24 479,238.59 480,238.47 481,238.75 482,238.81 483,238.3 484,238.29 485,239.15 486,238.61 487,238.62 488,239.42 489,238.93 490,239.33 491,239 492,239.2 493,238.74 494,239.25 495,239.52 496,239.2 497,239.45 498,239.4 499,238.82 500,239.54 501,239.39 502,239.13 503,238.88 504,239.74 505,239.36 506,239.63 507,239.81 508,239.66 509,239.89 510,239.38 511,239.8 512,239.46 513,239.97 514,239.93 515,239.16 516,239.21 517,239.31 518,240.07 519,239.55 520,239.76 521,239.44 522,239.66 523,239.55 524,239.53 525,239.77 526,239.78 527,240.11 528,239.9 529,240.15 530,240.09 531,240.23 532,239.92 533,239.42 534,240.13 535,240.24 536,240.19 537,239.86 538,239.88 539,239.69 540,239.94 541,239.85 542,239.74 543,239.65 544,239.98 545,240.04 546,239.68 547,239.97 548,239.82 549,239.72 550,239.78 551,239.98 552,240.02 553,239.69 554,239.93 555,239.7 556,239.98 557,239.82 558,240.05 559,240.09 560,239.9 561,240.11 562,239.83 563,239.74 564,239.95 565,239.73 566,239.8 567,239.89 568,239.97 569,239.79 570,239.75 571,240.08 572,239.86 573,240.12 574,240.1 575,239.89 576,239.93 577,239.95 578,240 579,239.99 580,239.97 581,240 582,240.13 583,239.96 584,239.93 585,240.05 586,239.85 587,239.88 588,240.15 589,239.97 590,239.98 591,239.77 592,239.93 593,240 594,239.78 595,240.02 596,240.02 597,239.8 598,240.02 599,239.96 600,240.05 601,239.92 602,240.06 603,240.07 604,239.79 605,239.8 606,240.05 607,240.16 608,239.88 609,239.96 610,240.02 611,239.91 612,239.93 613,239.91 614,239.93 615,240.02 616,239.91 617,239.94 618,240.09 619,239.8 620,240.01 621,240.08 622,239.91 623,239.88 624,240.11 625,239.88 626,239.86 627,239.96 628,240.07 629,239.83 630,239.92 631,239.92 632,240.12 633,239.97 634,240.13 635,239.86 636,239.93 637,240.05 638,240.15 639,239.97 640,239.88 641,239.84 642,240.01 643,239.87 644,240.12 645,240.13 646,239.87 647,239.91 648,240.12 649,240.05 650,240.12 651,239.93 652,239.85 653,239.91 654,240.11 655,239.9 656,239.93 657,239.96 658,239.96" fill="none" stroke="#000" stroke-width="1.5" stroke-linejoin="round" />
<ellipse cx="435" cy="87" rx="6" ry="4" fill="#000"/>
<ellipse cx="440" cy="87.5" rx="3" ry="3" fill="#000"/>
<line x1="417.3" y1="60.3" x2="512" y2="60.3" stroke="#000" stroke-width="2.2" />
<line x1="417.3" y1="59.2" x2="417.3" y2="249.1" stroke="#000" stroke-width="2.2" />
<line x1="416.2" y1="248" x2="671.8" y2="248" stroke="#000" stroke-width="2.2" />
<line x1="670.7" y1="98" x2="670.7" y2="248" stroke="#000" stroke-width="2.2" />
<rect x="512.5" y="12.3" width="171.5" height="86.3" fill="#fff" stroke="#000" stroke-width="2.2" />
<rect x="514" y="59" width="157.5" height="37.5" fill="none" stroke="#e6e6e6" stroke-width="1" />
<rect x="529.7" y="134.4" width="122.9" height="68.7" fill="#fff" stroke="none" stroke-width="0" />
<line x1="529.7" y1="138.5" x2="534.7" y2="138.5" stroke="#000" stroke-width="1.1" />
<line x1="529.7" y1="146" x2="532.7" y2="146" stroke="#000" stroke-width="1.1" />
<line x1="529.7" y1="153.5" x2="532.7" y2="153.5" stroke="#000" stroke-width="1.1" />
<line x1="529.7" y1="161" x2="532.7" y2="161" stroke="#000" stroke-width="1.1" />
<line x1="529.7" y1="168.5" x2="532.7" y2="168.5" stroke="#000" stroke-width="1.1" />
<line x1="529.7" y1="176" x2="534.7" y2="176" stroke="#000" stroke-width="1.1" />
<line x1="529.7" y1="183.5" x2="532.7" y2="183.5" stroke="#000" stroke-width="1.1" />
<line x1="529.7" y1="191" x2="532.7" y2="191" stroke="#000" stroke-width="1.1" />
<line x1="529.7" y1="198.5" x2="532.7" y2="198.5" stroke="#000" stroke-width="1.1" />
<line x1="534" y1="203.1" x2="534" y2="198.1" stroke="#000" stroke-width="1.1" />
<line x1="545.36" y1="203.1" x2="545.36" y2="200.1" stroke="#000" stroke-width="1.1" />
<line x1="556.72" y1="203.1" x2="556.72" y2="200.1" stroke="#000" stroke-width="1.1" />
<line x1="568.08" y1="203.1" x2="568.08" y2="200.1" stroke="#000" stroke-width="1.1" />
<line x1="579.44" y1="203.1" x2="579.44" y2="200.1" stroke="#000" stroke-width="1.1" />
<line x1="590.8" y1="203.1" x2="590.8" y2="198.1" stroke="#000" stroke-width="1.1" />
<line x1="602.16" y1="203.1" x2="602.16" y2="200.1" stroke="#000" stroke-width="1.1" />
<line x1="613.52" y1="203.1" x2="613.52" y2="200.1" stroke="#000" stroke-width="1.1" />
<line x1="624.88" y1="203.1" x2="624.88" y2="200.1" stroke="#000" stroke-width="1.1" />
<line x1="636.24" y1="203.1" x2="636.24" y2="200.1" stroke="#000" stroke-width="1.1" />
<line x1="647.6" y1="203.1" x2="647.6" y2="198.1" stroke="#000" stroke-width="1.1" />
<polyline points="534,138.8 545,138.8 551,139.2 552.5,141 553.5,150 554.5,165 555.5,180 556.6,186 557.5,194 559,199 562,199.8 647.6,200" fill="none" stroke="#b0b0b0" stroke-width="1.8" stroke-linejoin="round" />
<polyline points="534,138.5 540,138.5 550,138.6 551.4,139 552.5,142 554,150 556,156 557.5,158.9 560,159.5 600,159.6 647.6,159.6" fill="none" stroke="#159415" stroke-width="1.8" stroke-linejoin="round" />
<line x1="535" y1="136" x2="538" y2="141" stroke="#159415" stroke-width="1" />
<line x1="529.7" y1="134.4" x2="653.7" y2="134.4" stroke="#000" stroke-width="2.2" />
<line x1="529.7" y1="133.3" x2="529.7" y2="204.2" stroke="#000" stroke-width="2.2" />
<line x1="528.6" y1="203.1" x2="653.7" y2="203.1" stroke="#000" stroke-width="2.2" />
<line x1="652.6" y1="134.4" x2="652.6" y2="203.1" stroke="#000" stroke-width="2.2" />
<line x1="61" y1="470.9" x2="64" y2="470.9" stroke="#000" stroke-width="1.1" />
<line x1="61" y1="465.49" x2="66" y2="465.49" stroke="#000" stroke-width="1.1" />
<line x1="61" y1="460.08" x2="64" y2="460.08" stroke="#000" stroke-width="1.1" />
<line x1="61" y1="454.66" x2="64" y2="454.66" stroke="#000" stroke-width="1.1" />
<line x1="61" y1="449.25" x2="64" y2="449.25" stroke="#000" stroke-width="1.1" />
<line x1="61" y1="443.84" x2="64" y2="443.84" stroke="#000" stroke-width="1.1" />
<line x1="61" y1="438.43" x2="66" y2="438.43" stroke="#000" stroke-width="1.1" />
<line x1="61" y1="433.01" x2="64" y2="433.01" stroke="#000" stroke-width="1.1" />
<line x1="61" y1="427.6" x2="64" y2="427.6" stroke="#000" stroke-width="1.1" />
<line x1="61" y1="422.19" x2="64" y2="422.19" stroke="#000" stroke-width="1.1" />
<line x1="61" y1="416.77" x2="64" y2="416.77" stroke="#000" stroke-width="1.1" />
<line x1="61" y1="411.36" x2="66" y2="411.36" stroke="#000" stroke-width="1.1" />
<line x1="61" y1="405.95" x2="64" y2="405.95" stroke="#000" stroke-width="1.1" />
<line x1="61" y1="400.53" x2="64" y2="400.53" stroke="#000" stroke-width="1.1" />
<line x1="61" y1="395.12" x2="64" y2="395.12" stroke="#000" stroke-width="1.1" />
<line x1="61" y1="389.71" x2="64" y2="389.71" stroke="#000" stroke-width="1.1" />
<line x1="61" y1="384.3" x2="66" y2="384.3" stroke="#000" stroke-width="1.1" />
<line x1="61" y1="378.88" x2="64" y2="378.88" stroke="#000" stroke-width="1.1" />
<line x1="61" y1="373.47" x2="64" y2="373.47" stroke="#000" stroke-width="1.1" />
<line x1="61" y1="368.06" x2="64" y2="368.06" stroke="#000" stroke-width="1.1" />
<line x1="61" y1="362.64" x2="64" y2="362.64" stroke="#000" stroke-width="1.1" />
<line x1="61" y1="357.23" x2="66" y2="357.23" stroke="#000" stroke-width="1.1" />
<line x1="61" y1="351.82" x2="64" y2="351.82" stroke="#000" stroke-width="1.1" />
<line x1="61" y1="346.4" x2="64" y2="346.4" stroke="#000" stroke-width="1.1" />
<line x1="61" y1="340.99" x2="64" y2="340.99" stroke="#000" stroke-width="1.1" />
<line x1="61" y1="335.58" x2="64" y2="335.58" stroke="#000" stroke-width="1.1" />
<line x1="61" y1="330.17" x2="66" y2="330.17" stroke="#000" stroke-width="1.1" />
<line x1="61" y1="324.75" x2="64" y2="324.75" stroke="#000" stroke-width="1.1" />
<line x1="61" y1="319.34" x2="64" y2="319.34" stroke="#000" stroke-width="1.1" />
<line x1="61" y1="313.93" x2="64" y2="313.93" stroke="#000" stroke-width="1.1" />
<line x1="61" y1="308.51" x2="64" y2="308.51" stroke="#000" stroke-width="1.1" />
<line x1="61" y1="303.1" x2="66" y2="303.1" stroke="#000" stroke-width="1.1" />
<line x1="61" y1="297.69" x2="64" y2="297.69" stroke="#000" stroke-width="1.1" />
<line x1="70" y1="477.8" x2="70" y2="472.8" stroke="#000" stroke-width="1.1" />
<line x1="81.33" y1="477.8" x2="81.33" y2="474.8" stroke="#000" stroke-width="1.1" />
<line x1="92.66" y1="477.8" x2="92.66" y2="474.8" stroke="#000" stroke-width="1.1" />
<line x1="103.99" y1="477.8" x2="103.99" y2="474.8" stroke="#000" stroke-width="1.1" />
<line x1="115.32" y1="477.8" x2="115.32" y2="472.8" stroke="#000" stroke-width="1.1" />
<line x1="126.65" y1="477.8" x2="126.65" y2="474.8" stroke="#000" stroke-width="1.1" />
<line x1="137.98" y1="477.8" x2="137.98" y2="474.8" stroke="#000" stroke-width="1.1" />
<line x1="149.31" y1="477.8" x2="149.31" y2="474.8" stroke="#000" stroke-width="1.1" />
<line x1="160.64" y1="477.8" x2="160.64" y2="472.8" stroke="#000" stroke-width="1.1" />
<line x1="171.97" y1="477.8" x2="171.97" y2="474.8" stroke="#000" stroke-width="1.1" />
<line x1="183.3" y1="477.8" x2="183.3" y2="474.8" stroke="#000" stroke-width="1.1" />
<line x1="194.63" y1="477.8" x2="194.63" y2="474.8" stroke="#000" stroke-width="1.1" />
<line x1="205.96" y1="477.8" x2="205.96" y2="472.8" stroke="#000" stroke-width="1.1" />
<line x1="217.29" y1="477.8" x2="217.29" y2="474.8" stroke="#000" stroke-width="1.1" />
<line x1="228.62" y1="477.8" x2="228.62" y2="474.8" stroke="#000" stroke-width="1.1" />
<line x1="239.95" y1="477.8" x2="239.95" y2="474.8" stroke="#000" stroke-width="1.1" />
<line x1="251.28" y1="477.8" x2="251.28" y2="472.8" stroke="#000" stroke-width="1.1" />
<line x1="262.61" y1="477.8" x2="262.61" y2="474.8" stroke="#000" stroke-width="1.1" />
<line x1="273.94" y1="477.8" x2="273.94" y2="474.8" stroke="#000" stroke-width="1.1" />
<line x1="285.27" y1="477.8" x2="285.27" y2="474.8" stroke="#000" stroke-width="1.1" />
<line x1="296.6" y1="477.8" x2="296.6" y2="472.8" stroke="#000" stroke-width="1.1" />
<polyline points="71.5,303 90,303 101,303.2 104.1,303.7 106.7,306.7 107.8,316 109.3,345.6 111.5,382.6 114.1,408.5 115.2,419.6 116.7,445.6 118.9,458.5 121.5,466 127,467.8 150,469 200,469.6 296.6,469.7" fill="none" stroke="#000" stroke-width="1.15" stroke-linejoin="round" />
<line x1="61" y1="295" x2="304.9" y2="295" stroke="#000" stroke-width="2.2" />
<line x1="61" y1="293.9" x2="61" y2="478.9" stroke="#000" stroke-width="2.2" />
<line x1="59.9" y1="477.8" x2="304.9" y2="477.8" stroke="#000" stroke-width="2.2" />
<line x1="303.8" y1="295" x2="303.8" y2="477.8" stroke="#000" stroke-width="2.2" />
<rect x="155.5" y="352.9" width="126.5" height="66.3" fill="#fff" stroke="none" stroke-width="0" />
<line x1="155.5" y1="417.3" x2="160.5" y2="417.3" stroke="#000" stroke-width="1.1" />
<line x1="155.5" y1="410.16" x2="158.5" y2="410.16" stroke="#000" stroke-width="1.1" />
<line x1="155.5" y1="403.02" x2="158.5" y2="403.02" stroke="#000" stroke-width="1.1" />
<line x1="155.5" y1="395.88" x2="158.5" y2="395.88" stroke="#000" stroke-width="1.1" />
<line x1="155.5" y1="388.74" x2="158.5" y2="388.74" stroke="#000" stroke-width="1.1" />
<line x1="155.5" y1="381.6" x2="160.5" y2="381.6" stroke="#000" stroke-width="1.1" />
<line x1="155.5" y1="374.46" x2="158.5" y2="374.46" stroke="#000" stroke-width="1.1" />
<line x1="155.5" y1="367.32" x2="158.5" y2="367.32" stroke="#000" stroke-width="1.1" />
<line x1="155.5" y1="360.18" x2="158.5" y2="360.18" stroke="#000" stroke-width="1.1" />
<line x1="155.5" y1="353.04" x2="158.5" y2="353.04" stroke="#000" stroke-width="1.1" />
<line x1="159.8" y1="419.2" x2="159.8" y2="415.2" stroke="#000" stroke-width="1.1" />
<line x1="183.04" y1="419.2" x2="183.04" y2="415.2" stroke="#000" stroke-width="1.1" />
<line x1="206.28" y1="419.2" x2="206.28" y2="415.2" stroke="#000" stroke-width="1.1" />
<line x1="229.52" y1="419.2" x2="229.52" y2="415.2" stroke="#000" stroke-width="1.1" />
<line x1="252.76" y1="419.2" x2="252.76" y2="415.2" stroke="#000" stroke-width="1.1" />
<line x1="276" y1="419.2" x2="276" y2="415.2" stroke="#000" stroke-width="1.1" />
<polyline points="160.4,416.6 179.2,416.6 181.8,412.5 185.4,406.4 188.9,405.9 276,405.9" fill="none" stroke="#b0b0b0" stroke-width="1.8" stroke-linejoin="round" />
<polyline points="160.4,414.8 169.6,415.2 175.7,413.4 178.3,409.9 179.7,397.6 181,374.8 182.2,369.6 183.6,360.8 186.2,356.4 190.6,356 276,355.8" fill="none" stroke="#159415" stroke-width="1.8" stroke-linejoin="round" />
<line x1="155.5" y1="352.9" x2="283.1" y2="352.9" stroke="#000" stroke-width="2.2" />
<line x1="155.5" y1="351.8" x2="155.5" y2="420.3" stroke="#000" stroke-width="2.2" />
<line x1="154.4" y1="419.2" x2="283.1" y2="419.2" stroke="#000" stroke-width="2.2" />
<line x1="282" y1="352.9" x2="282" y2="419.2" stroke="#000" stroke-width="2.2" />
<rect x="477.45" y="294.3" width="83.15" height="183.2" fill="#e5e5e5" stroke="none" stroke-width="0" />
<line x1="417" y1="477.56" x2="420" y2="477.56" stroke="#000" stroke-width="1.1" />
<line x1="417" y1="472.08" x2="420" y2="472.08" stroke="#000" stroke-width="1.1" />
<line x1="417" y1="466.6" x2="422" y2="466.6" stroke="#000" stroke-width="1.1" />
<line x1="417" y1="461.12" x2="420" y2="461.12" stroke="#000" stroke-width="1.1" />
<line x1="417" y1="455.64" x2="420" y2="455.64" stroke="#000" stroke-width="1.1" />
<line x1="417" y1="450.16" x2="420" y2="450.16" stroke="#000" stroke-width="1.1" />
<line x1="417" y1="444.68" x2="420" y2="444.68" stroke="#000" stroke-width="1.1" />
<line x1="417" y1="439.2" x2="422" y2="439.2" stroke="#000" stroke-width="1.1" />
<line x1="417" y1="433.72" x2="420" y2="433.72" stroke="#000" stroke-width="1.1" />
<line x1="417" y1="428.24" x2="420" y2="428.24" stroke="#000" stroke-width="1.1" />
<line x1="417" y1="422.76" x2="420" y2="422.76" stroke="#000" stroke-width="1.1" />
<line x1="417" y1="417.28" x2="420" y2="417.28" stroke="#000" stroke-width="1.1" />
<line x1="417" y1="411.8" x2="422" y2="411.8" stroke="#000" stroke-width="1.1" />
<line x1="417" y1="406.32" x2="420" y2="406.32" stroke="#000" stroke-width="1.1" />
<line x1="417" y1="400.84" x2="420" y2="400.84" stroke="#000" stroke-width="1.1" />
<line x1="417" y1="395.36" x2="420" y2="395.36" stroke="#000" stroke-width="1.1" />
<line x1="417" y1="389.88" x2="420" y2="389.88" stroke="#000" stroke-width="1.1" />
<line x1="417" y1="384.4" x2="422" y2="384.4" stroke="#000" stroke-width="1.1" />
<line x1="417" y1="378.92" x2="420" y2="378.92" stroke="#000" stroke-width="1.1" />
<line x1="417" y1="373.44" x2="420" y2="373.44" stroke="#000" stroke-width="1.1" />
<line x1="417" y1="367.96" x2="420" y2="367.96" stroke="#000" stroke-width="1.1" />
<line x1="417" y1="362.48" x2="420" y2="362.48" stroke="#000" stroke-width="1.1" />
<line x1="417" y1="357" x2="422" y2="357" stroke="#000" stroke-width="1.1" />
<line x1="417" y1="351.52" x2="420" y2="351.52" stroke="#000" stroke-width="1.1" />
<line x1="417" y1="346.04" x2="420" y2="346.04" stroke="#000" stroke-width="1.1" />
<line x1="417" y1="340.56" x2="420" y2="340.56" stroke="#000" stroke-width="1.1" />
<line x1="417" y1="335.08" x2="420" y2="335.08" stroke="#000" stroke-width="1.1" />
<line x1="417" y1="329.6" x2="422" y2="329.6" stroke="#000" stroke-width="1.1" />
<line x1="417" y1="324.12" x2="420" y2="324.12" stroke="#000" stroke-width="1.1" />
<line x1="417" y1="318.64" x2="420" y2="318.64" stroke="#000" stroke-width="1.1" />
<line x1="417" y1="313.16" x2="420" y2="313.16" stroke="#000" stroke-width="1.1" />
<line x1="417" y1="307.68" x2="420" y2="307.68" stroke="#000" stroke-width="1.1" />
<line x1="417" y1="302.2" x2="422" y2="302.2" stroke="#000" stroke-width="1.1" />
<line x1="417" y1="296.72" x2="420" y2="296.72" stroke="#000" stroke-width="1.1" />
<line x1="420.95" y1="477.5" x2="420.95" y2="474.5" stroke="#000" stroke-width="1.1" />
<line x1="429.16" y1="477.5" x2="429.16" y2="474.5" stroke="#000" stroke-width="1.1" />
<line x1="437.38" y1="477.5" x2="437.38" y2="472.5" stroke="#000" stroke-width="1.1" />
<line x1="445.59" y1="477.5" x2="445.59" y2="474.5" stroke="#000" stroke-width="1.1" />
<line x1="453.81" y1="477.5" x2="453.81" y2="474.5" stroke="#000" stroke-width="1.1" />
<line x1="462.02" y1="477.5" x2="462.02" y2="474.5" stroke="#000" stroke-width="1.1" />
<line x1="470.24" y1="477.5" x2="470.24" y2="474.5" stroke="#000" stroke-width="1.1" />
<line x1="478.45" y1="477.5" x2="478.45" y2="472.5" stroke="#000" stroke-width="1.1" />
<line x1="486.67" y1="477.5" x2="486.67" y2="474.5" stroke="#000" stroke-width="1.1" />
<line x1="494.88" y1="477.5" x2="494.88" y2="474.5" stroke="#000" stroke-width="1.1" />
<line x1="503.1" y1="477.5" x2="503.1" y2="474.5" stroke="#000" stroke-width="1.1" />
<line x1="511.31" y1="477.5" x2="511.31" y2="474.5" stroke="#000" stroke-width="1.1" />
<line x1="519.52" y1="477.5" x2="519.52" y2="472.5" stroke="#000" stroke-width="1.1" />
<line x1="527.74" y1="477.5" x2="527.74" y2="474.5" stroke="#000" stroke-width="1.1" />
<line x1="535.96" y1="477.5" x2="535.96" y2="474.5" stroke="#000" stroke-width="1.1" />
<line x1="544.17" y1="477.5" x2="544.17" y2="474.5" stroke="#000" stroke-width="1.1" />
<line x1="552.38" y1="477.5" x2="552.38" y2="474.5" stroke="#000" stroke-width="1.1" />
<line x1="560.6" y1="477.5" x2="560.6" y2="472.5" stroke="#000" stroke-width="1.1" />
<line x1="568.82" y1="477.5" x2="568.82" y2="474.5" stroke="#000" stroke-width="1.1" />
<line x1="577.03" y1="477.5" x2="577.03" y2="474.5" stroke="#000" stroke-width="1.1" />
<line x1="585.25" y1="477.5" x2="585.25" y2="474.5" stroke="#000" stroke-width="1.1" />
<line x1="593.46" y1="477.5" x2="593.46" y2="474.5" stroke="#000" stroke-width="1.1" />
<line x1="601.67" y1="477.5" x2="601.67" y2="472.5" stroke="#000" stroke-width="1.1" />
<line x1="609.89" y1="477.5" x2="609.89" y2="474.5" stroke="#000" stroke-width="1.1" />
<line x1="618.11" y1="477.5" x2="618.11" y2="474.5" stroke="#000" stroke-width="1.1" />
<line x1="626.32" y1="477.5" x2="626.32" y2="474.5" stroke="#000" stroke-width="1.1" />
<line x1="634.54" y1="477.5" x2="634.54" y2="474.5" stroke="#000" stroke-width="1.1" />
<line x1="642.75" y1="477.5" x2="642.75" y2="472.5" stroke="#000" stroke-width="1.1" />
<line x1="650.97" y1="477.5" x2="650.97" y2="474.5" stroke="#000" stroke-width="1.1" />
<line x1="659.18" y1="477.5" x2="659.18" y2="474.5" stroke="#000" stroke-width="1.1" />
<line x1="667.39" y1="477.5" x2="667.39" y2="474.5" stroke="#000" stroke-width="1.1" />
<polyline points="445.59,302.2 462.02,302.2 478.45,466.6 494.88,467.7 511.31,469.89 527.74,465.78 544.17,432.62 560.6,388.78 577.03,333.44 593.46,325.22 609.89,318.64 626.32,314.8 642.75,313.16 659.18,312.06" fill="none" stroke="#fde28f" stroke-width="1.6" stroke-linejoin="round" stroke-dasharray="5,3"/>
<polyline points="429.16,302.2 445.59,302.2 462.02,308.23 478.45,463.86 494.88,465.5 511.31,465.78 527.74,456.19 544.17,427.69 560.6,378.92 577.03,331.79 593.46,324.12 609.89,317.54 626.32,314.26 642.75,312.61 659.18,311.52" fill="none" stroke="#fdae61" stroke-width="1.6" stroke-linejoin="round" stroke-dasharray="5,3"/>
<polyline points="462.02,316.45 478.45,461.67 494.88,464.96 511.31,460.02 527.74,443.04 544.17,409.06 560.6,359.74 577.03,327.96 593.46,321.38 609.89,315.9 626.32,313.16 642.75,311.52 659.18,310.42" fill="none" stroke="#f46d43" stroke-width="1.6" stroke-linejoin="round" stroke-dasharray="5,3"/>
<polyline points="429.16,327.41 445.59,462.22 462.02,462.76 478.45,462.22 494.88,454 511.31,435.91 527.74,405.22 544.17,362.21 560.6,326.31 577.03,319.74 593.46,315.35 609.89,313.16 626.32,310.97 642.75,310.42 659.18,309.6" fill="none" stroke="#d53e4f" stroke-width="1.6" stroke-linejoin="round" stroke-dasharray="5,3"/>
<circle cx="544.17" cy="449.61" r="3.5" fill="#fff" stroke="#000" stroke-width="1.3"/>
<circle cx="560.6" cy="396.46" r="3.5" fill="#fff" stroke="#000" stroke-width="1.3"/>
<polygon points="429.16,298.3 431.61,302.2 429.16,306.1 426.71,302.2" fill="#fdae61" stroke="#000" stroke-width="1.2" stroke-linejoin="miter"/>
<polygon points="429.16,323.51 431.61,327.41 429.16,331.31 426.71,327.41" fill="#d53e4f" stroke="#000" stroke-width="1.2" stroke-linejoin="miter"/>
<polygon points="445.59,298.3 448.04,302.2 445.59,306.1 443.14,302.2" fill="#fee08b" stroke="#000" stroke-width="1.2" stroke-linejoin="miter"/>
<polygon points="445.59,298.3 448.04,302.2 445.59,306.1 443.14,302.2" fill="#fdae61" stroke="#000" stroke-width="1.2" stroke-linejoin="miter"/>
<polygon points="445.59,458.32 448.04,462.22 445.59,466.12 443.14,462.22" fill="#d53e4f" stroke="#000" stroke-width="1.2" stroke-linejoin="miter"/>
<polygon points="462.02,298.3 464.47,302.2 462.02,306.1 459.57,302.2" fill="#fee08b" stroke="#000" stroke-width="1.2" stroke-linejoin="miter"/>
<polygon points="462.02,304.33 464.47,308.23 462.02,312.13 459.57,308.23" fill="#fdae61" stroke="#000" stroke-width="1.2" stroke-linejoin="miter"/>
<polygon points="462.02,312.55 464.47,316.45 462.02,320.35 459.57,316.45" fill="#f46d43" stroke="#000" stroke-width="1.2" stroke-linejoin="miter"/>
<polygon points="462.02,458.86 464.47,462.76 462.02,466.66 459.57,462.76" fill="#d53e4f" stroke="#000" stroke-width="1.2" stroke-linejoin="miter"/>
<polygon points="478.45,462.7 480.9,466.6 478.45,470.5 476,466.6" fill="#fee08b" stroke="#000" stroke-width="1.2" stroke-linejoin="miter"/>
<polygon points="478.45,459.96 480.9,463.86 478.45,467.76 476,463.86" fill="#fdae61" stroke="#000" stroke-width="1.2" stroke-linejoin="miter"/>
<polygon points="478.45,457.77 480.9,461.67 478.45,465.57 476,461.67" fill="#f46d43" stroke="#000" stroke-width="1.2" stroke-linejoin="miter"/>
<polygon points="478.45,458.32 480.9,462.22 478.45,466.12 476,462.22" fill="#d53e4f" stroke="#000" stroke-width="1.2" stroke-linejoin="miter"/>
<polygon points="494.88,463.8 497.33,467.7 494.88,471.6 492.43,467.7" fill="#fee08b" stroke="#000" stroke-width="1.2" stroke-linejoin="miter"/>
<polygon points="494.88,461.6 497.33,465.5 494.88,469.4 492.43,465.5" fill="#fdae61" stroke="#000" stroke-width="1.2" stroke-linejoin="miter"/>
<polygon points="494.88,461.06 497.33,464.96 494.88,468.86 492.43,464.96" fill="#f46d43" stroke="#000" stroke-width="1.2" stroke-linejoin="miter"/>
<polygon points="494.88,450.1 497.33,454 494.88,457.9 492.43,454" fill="#d53e4f" stroke="#000" stroke-width="1.2" stroke-linejoin="miter"/>
<polygon points="511.31,465.99 513.76,469.89 511.31,473.79 508.86,469.89" fill="#fee08b" stroke="#000" stroke-width="1.2" stroke-linejoin="miter"/>
<polygon points="511.31,461.88 513.76,465.78 511.31,469.68 508.86,465.78" fill="#fdae61" stroke="#000" stroke-width="1.2" stroke-linejoin="miter"/>
<polygon points="511.31,456.12 513.76,460.02 511.31,463.92 508.86,460.02" fill="#f46d43" stroke="#000" stroke-width="1.2" stroke-linejoin="miter"/>
<polygon points="511.31,432.01 513.76,435.91 511.31,439.81 508.86,435.91" fill="#d53e4f" stroke="#000" stroke-width="1.2" stroke-linejoin="miter"/>
<polygon points="527.74,461.88 530.19,465.78 527.74,469.68 525.29,465.78" fill="#fee08b" stroke="#000" stroke-width="1.2" stroke-linejoin="miter"/>
<polygon points="527.74,452.29 530.19,456.19 527.74,460.09 525.29,456.19" fill="#fdae61" stroke="#000" stroke-width="1.2" stroke-linejoin="miter"/>
<polygon points="527.74,439.14 530.19,443.04 527.74,446.94 525.29,443.04" fill="#f46d43" stroke="#000" stroke-width="1.2" stroke-linejoin="miter"/>
<polygon points="527.74,401.32 530.19,405.22 527.74,409.12 525.29,405.22" fill="#d53e4f" stroke="#000" stroke-width="1.2" stroke-linejoin="miter"/>
<polygon points="544.17,428.72 546.62,432.62 544.17,436.52 541.72,432.62" fill="#fee08b" stroke="#000" stroke-width="1.2" stroke-linejoin="miter"/>
<polygon points="544.17,423.79 546.62,427.69 544.17,431.59 541.72,427.69" fill="#fdae61" stroke="#000" stroke-width="1.2" stroke-linejoin="miter"/>
<polygon points="544.17,405.16 546.62,409.06 544.17,412.96 541.72,409.06" fill="#f46d43" stroke="#000" stroke-width="1.2" stroke-linejoin="miter"/>
<polygon points="544.17,358.31 546.62,362.21 544.17,366.11 541.72,362.21" fill="#d53e4f" stroke="#000" stroke-width="1.2" stroke-linejoin="miter"/>
<polygon points="560.6,384.88 563.05,388.78 560.6,392.68 558.15,388.78" fill="#fee08b" stroke="#000" stroke-width="1.2" stroke-linejoin="miter"/>
<polygon points="560.6,375.02 563.05,378.92 560.6,382.82 558.15,378.92" fill="#fdae61" stroke="#000" stroke-width="1.2" stroke-linejoin="miter"/>
<polygon points="560.6,355.84 563.05,359.74 560.6,363.64 558.15,359.74" fill="#f46d43" stroke="#000" stroke-width="1.2" stroke-linejoin="miter"/>
<polygon points="560.6,322.41 563.05,326.31 560.6,330.21 558.15,326.31" fill="#d53e4f" stroke="#000" stroke-width="1.2" stroke-linejoin="miter"/>
<polygon points="577.03,329.54 579.48,333.44 577.03,337.34 574.58,333.44" fill="#fee08b" stroke="#000" stroke-width="1.2" stroke-linejoin="miter"/>
<polygon points="577.03,327.89 579.48,331.79 577.03,335.69 574.58,331.79" fill="#fdae61" stroke="#000" stroke-width="1.2" stroke-linejoin="miter"/>
<polygon points="577.03,324.06 579.48,327.96 577.03,331.86 574.58,327.96" fill="#f46d43" stroke="#000" stroke-width="1.2" stroke-linejoin="miter"/>
<polygon points="577.03,315.84 579.48,319.74 577.03,323.64 574.58,319.74" fill="#d53e4f" stroke="#000" stroke-width="1.2" stroke-linejoin="miter"/>
<polygon points="593.46,321.32 595.91,325.22 593.46,329.12 591.01,325.22" fill="#fee08b" stroke="#000" stroke-width="1.2" stroke-linejoin="miter"/>
<polygon points="593.46,320.22 595.91,324.12 593.46,328.02 591.01,324.12" fill="#fdae61" stroke="#000" stroke-width="1.2" stroke-linejoin="miter"/>
<polygon points="593.46,317.48 595.91,321.38 593.46,325.28 591.01,321.38" fill="#f46d43" stroke="#000" stroke-width="1.2" stroke-linejoin="miter"/>
<polygon points="593.46,311.45 595.91,315.35 593.46,319.25 591.01,315.35" fill="#d53e4f" stroke="#000" stroke-width="1.2" stroke-linejoin="miter"/>
<polygon points="609.89,314.74 612.34,318.64 609.89,322.54 607.44,318.64" fill="#fee08b" stroke="#000" stroke-width="1.2" stroke-linejoin="miter"/>
<polygon points="609.89,313.64 612.34,317.54 609.89,321.44 607.44,317.54" fill="#fdae61" stroke="#000" stroke-width="1.2" stroke-linejoin="miter"/>
<polygon points="609.89,312 612.34,315.9 609.89,319.8 607.44,315.9" fill="#f46d43" stroke="#000" stroke-width="1.2" stroke-linejoin="miter"/>
<polygon points="609.89,309.26 612.34,313.16 609.89,317.06 607.44,313.16" fill="#d53e4f" stroke="#000" stroke-width="1.2" stroke-linejoin="miter"/>
<polygon points="626.32,310.9 628.77,314.8 626.32,318.7 623.87,314.8" fill="#fee08b" stroke="#000" stroke-width="1.2" stroke-linejoin="miter"/>
<polygon points="626.32,310.36 628.77,314.26 626.32,318.16 623.87,314.26" fill="#fdae61" stroke="#000" stroke-width="1.2" stroke-linejoin="miter"/>
<polygon points="626.32,309.26 628.77,313.16 626.32,317.06 623.87,313.16" fill="#f46d43" stroke="#000" stroke-width="1.2" stroke-linejoin="miter"/>
<polygon points="626.32,307.07 628.77,310.97 626.32,314.87 623.87,310.97" fill="#d53e4f" stroke="#000" stroke-width="1.2" stroke-linejoin="miter"/>
<polygon points="642.75,309.26 645.2,313.16 642.75,317.06 640.3,313.16" fill="#fee08b" stroke="#000" stroke-width="1.2" stroke-linejoin="miter"/>
<polygon points="642.75,308.71 645.2,312.61 642.75,316.51 640.3,312.61" fill="#fdae61" stroke="#000" stroke-width="1.2" stroke-linejoin="miter"/>
<polygon points="642.75,307.62 645.2,311.52 642.75,315.42 640.3,311.52" fill="#f46d43" stroke="#000" stroke-width="1.2" stroke-linejoin="miter"/>
<polygon points="642.75,306.52 645.2,310.42 642.75,314.32 640.3,310.42" fill="#d53e4f" stroke="#000" stroke-width="1.2" stroke-linejoin="miter"/>
<polygon points="659.18,308.16 661.63,312.06 659.18,315.96 656.73,312.06" fill="#fee08b" stroke="#000" stroke-width="1.2" stroke-linejoin="miter"/>
<polygon points="659.18,307.62 661.63,311.52 659.18,315.42 656.73,311.52" fill="#fdae61" stroke="#000" stroke-width="1.2" stroke-linejoin="miter"/>
<polygon points="659.18,306.52 661.63,310.42 659.18,314.32 656.73,310.42" fill="#f46d43" stroke="#000" stroke-width="1.2" stroke-linejoin="miter"/>
<polygon points="659.18,305.7 661.63,309.6 659.18,313.5 656.73,309.6" fill="#d53e4f" stroke="#000" stroke-width="1.2" stroke-linejoin="miter"/>
<polygon points="445.59,298.3 448.04,302.2 445.59,306.1 443.14,302.2" fill="#66c2a5" stroke="#000" stroke-width="1.2" stroke-linejoin="miter"/>
<polygon points="462.02,298.3 464.47,302.2 462.02,306.1 459.57,302.2" fill="#66c2a5" stroke="#000" stroke-width="1.2" stroke-linejoin="miter"/>
<polygon points="577.03,344.88 579.48,348.78 577.03,352.68 574.58,348.78" fill="#66c2a5" stroke="#000" stroke-width="1.2" stroke-linejoin="miter"/>
<polygon points="593.46,329.54 595.91,333.44 593.46,337.34 591.01,333.44" fill="#66c2a5" stroke="#000" stroke-width="1.2" stroke-linejoin="miter"/>
<polygon points="609.89,319.12 612.34,323.02 609.89,326.92 607.44,323.02" fill="#66c2a5" stroke="#000" stroke-width="1.2" stroke-linejoin="miter"/>
<polygon points="478.45,299.4 480.9,303.3 478.45,307.2 476,303.3" fill="#3288bd" stroke="#000" stroke-width="1.2" stroke-linejoin="miter"/>
<polygon points="494.88,299.94 497.33,303.84 494.88,307.74 492.43,303.84" fill="#3288bd" stroke="#000" stroke-width="1.2" stroke-linejoin="miter"/>
<polygon points="511.31,301.59 513.76,305.49 511.31,309.39 508.86,305.49" fill="#3288bd" stroke="#000" stroke-width="1.2" stroke-linejoin="miter"/>
<polygon points="527.74,304.88 530.19,308.78 527.74,312.68 525.29,308.78" fill="#3288bd" stroke="#000" stroke-width="1.2" stroke-linejoin="miter"/>
<polygon points="544.17,298.85 546.62,302.75 544.17,306.65 541.72,302.75" fill="#3288bd" stroke="#000" stroke-width="1.2" stroke-linejoin="miter"/>
<polygon points="560.6,303.23 563.05,307.13 560.6,311.03 558.15,307.13" fill="#3288bd" stroke="#000" stroke-width="1.2" stroke-linejoin="miter"/>
<polygon points="577.03,320.77 579.48,324.67 577.03,328.57 574.58,324.67" fill="#3288bd" stroke="#000" stroke-width="1.2" stroke-linejoin="miter"/>
<polygon points="593.46,323.51 595.91,327.41 593.46,331.31 591.01,327.41" fill="#3288bd" stroke="#000" stroke-width="1.2" stroke-linejoin="miter"/>
<polygon points="609.89,315.84 612.34,319.74 609.89,323.64 607.44,319.74" fill="#3288bd" stroke="#000" stroke-width="1.2" stroke-linejoin="miter"/>
<polygon points="626.32,309.26 628.77,313.16 626.32,317.06 623.87,313.16" fill="#3288bd" stroke="#000" stroke-width="1.2" stroke-linejoin="miter"/>
<polygon points="642.75,308.16 645.2,312.06 642.75,315.96 640.3,312.06" fill="#3288bd" stroke="#000" stroke-width="1.2" stroke-linejoin="miter"/>
<polygon points="659.18,307.62 661.63,311.52 659.18,315.42 656.73,311.52" fill="#3288bd" stroke="#000" stroke-width="1.2" stroke-linejoin="miter"/>
<line x1="417" y1="294.3" x2="672" y2="294.3" stroke="#000" stroke-width="2.2" />
<line x1="417" y1="293.2" x2="417" y2="478.6" stroke="#000" stroke-width="2.2" />
<line x1="415.9" y1="477.5" x2="672" y2="477.5" stroke="#000" stroke-width="2.2" />
<line x1="670.9" y1="294.3" x2="670.9" y2="477.5" stroke="#000" stroke-width="2.2" />
<g transform="translate(29.35,49.65) scale(1.1572)"><text x="0" y="0" font-size="20" fill="#000" ><tspan y="0" font-weight="bold">a</tspan></text></g>
<g transform="translate(60.0,57.3) scale(1.0957)"><text x="0" y="0" font-size="20" fill="#000" ><tspan y="0">×10</tspan><tspan font-size="16" y="-5.5">−3</tspan></text></g>
<g transform="translate(26.2,225.0) scale(1.2492) rotate(-90)"><text x="0" y="0" font-size="20" fill="#000" ><tspan y="0">|</tspan><tspan y="0" font-style="italic">E</tspan><tspan font-size="14" y="5">HF-TQS</tspan><tspan y="0"> − </tspan><tspan y="0" font-style="italic">E</tspan><tspan font-size="14" y="5">HF</tspan><tspan y="0">|</tspan></text></g>
<g transform="translate(46.17,85.5) scale(0.86)"><text x="0" y="0" font-size="20" fill="#000" >3</text></g>
<g transform="translate(46.35,142.55) scale(0.86)"><text x="0" y="0" font-size="20" fill="#000" >2</text></g>
<g transform="translate(46.0,199.0) scale(0.86)"><text x="0" y="0" font-size="20" fill="#000" >1</text></g>
<g transform="translate(46.55,251.4) scale(0.86)"><text x="0" y="0" font-size="20" fill="#000" >0</text></g>
<g transform="translate(89.4,262.85) scale(0.86)"><text x="0" y="0" font-size="20" fill="#000" >0.05</text></g>
<g transform="translate(182.9,262.85) scale(0.86)"><text x="0" y="0" font-size="20" fill="#000" >0.10</text></g>
<g transform="translate(269.3,262.85) scale(0.86)"><text x="0" y="0" font-size="20" fill="#000" >0.15</text></g>
<g transform="translate(168.7,281.15) scale(0.9672)"><text x="0" y="0" font-size="20" fill="#000" ><tspan y="0" font-style="italic">t</tspan><tspan y="0">/</tspan><tspan y="0" font-style="italic">U</tspan></text></g>
<g transform="translate(111.35,78.25) scale(0.767)"><text x="0" y="0" font-size="20" fill="#000" ><tspan y="0">|</tspan><tspan y="0" font-style="italic">E</tspan><tspan font-size="14" y="5">ED</tspan><tspan y="0"> − </tspan><tspan y="0" font-style="italic">E</tspan><tspan font-size="14" y="5">HF</tspan><tspan y="0">|</tspan></text></g>
<g transform="translate(224.65,16.05) scale(0.9804)"><text x="0" y="0" font-size="20" fill="#000" ><tspan y="0">×10</tspan><tspan font-size="16" y="-4.6">−5</tspan></text></g>
<g transform="translate(203.6,84.7) scale(1.07) rotate(-90)"><text x="0" y="0" font-size="20" fill="#000" ><tspan y="0" font-style="italic">δE</tspan><tspan font-size="14" y="5">ED</tspan></text></g>
<g transform="translate(212.15,59.05) scale(0.86)"><text x="0" y="0" font-size="20" fill="#000" >2</text></g>
<g transform="translate(212.0,109.45) scale(0.86)"><text x="0" y="0" font-size="20" fill="#000" >0</text></g>
<g transform="translate(235.55,125.2) scale(0.86)"><text x="0" y="0" font-size="20" fill="#000" >0.05</text></g>
<g transform="translate(272.0,125.2) scale(0.86)"><text x="0" y="0" font-size="20" fill="#000" >0.10</text></g>
<g transform="translate(308.2,125.2) scale(0.86)"><text x="0" y="0" font-size="20" fill="#000" >0.15</text></g>
<g transform="translate(264.95,148.65) scale(1.1766)"><text x="0" y="0" font-size="20" fill="#000" ><tspan y="0" font-style="italic">t</tspan><tspan y="0">/</tspan><tspan y="0" font-style="italic">U</tspan></text></g>
<g transform="translate(336.95,191.65) scale(0.8)"><text x="0" y="0" font-size="20" fill="#000" >20</text></g>
<g transform="translate(336.7,257.0) scale(0.8)"><text x="0" y="0" font-size="20" fill="#000" >14</text></g>
<g transform="translate(336.2,321.85) scale(0.8)"><text x="0" y="0" font-size="20" fill="#000" >10</text></g>
<g transform="translate(337.1,386.7) scale(0.8)"><text x="0" y="0" font-size="20" fill="#000" >6</text></g>
<g transform="translate(347.5,288.35) scale(0.9226)"><text x="0" y="0" font-size="20" fill="#000" ><tspan y="0" font-style="italic">N</tspan><tspan font-size="14" y="5" font-style="italic">e</tspan></text></g>
<g transform="translate(382.95,49.35) scale(1.021)"><text x="0" y="0" font-size="20" fill="#000" ><tspan y="0" font-weight="bold">b</tspan></text></g>
<g transform="translate(414.6,59.1) scale(0.9565)"><text x="0" y="0" font-size="20" fill="#000" ><tspan y="0">×10</tspan><tspan font-size="16" y="-5.2">−2</tspan></text></g>
<g transform="translate(369.05,204.3) scale(1.0561) rotate(-90)"><text x="0" y="0" font-size="20" fill="#000" ><tspan y="0" font-style="italic">E</tspan><tspan y="0">(</tspan><tspan y="0" font-weight="bold" font-style="italic">θ</tspan><tspan y="0">, </tspan><tspan y="0" font-weight="bold" font-style="italic">α</tspan><tspan y="0">)/</tspan><tspan y="0" font-style="italic">N</tspan><tspan font-size="14" y="5" font-style="italic">e</tspan></text></g>
<g transform="translate(376.25,100.15) scale(0.78)"><text x="0" y="0" font-size="20" fill="#000" >−6.18</text></g>
<g transform="translate(376.25,151.05) scale(0.78)"><text x="0" y="0" font-size="20" fill="#000" >−6.19</text></g>
<g transform="translate(376.25,201.95) scale(0.78)"><text x="0" y="0" font-size="20" fill="#000" >−6.20</text></g>
<g transform="translate(376.75,252.85) scale(0.78)"><text x="0" y="0" font-size="20" fill="#000" >−6.21</text></g>
<g transform="translate(423.7,261.45) scale(0.78)"><text x="0" y="0" font-size="20" fill="#000" >0</text></g>
<g transform="translate(454.7,261.45) scale(0.78)"><text x="0" y="0" font-size="20" fill="#000" >2000</text></g>
<g transform="translate(553.15,261.45) scale(0.78)"><text x="0" y="0" font-size="20" fill="#000" >6000</text></g>
<g transform="translate(640.25,261.45) scale(0.78)"><text x="0" y="0" font-size="20" fill="#000" >10000</text></g>
<g transform="translate(517.58,277.45) scale(0.7307)"><text x="0" y="0" font-size="20" fill="#000" >Epochs</text></g>
<g transform="translate(467.15,81.45) scale(0.7433)"><text x="0" y="0" font-size="20"  fill="#ff1a1a"><tspan y="0" font-style="italic">E</tspan><tspan font-size="14" y="5">HF</tspan></text></g>
<g transform="translate(516.45,25.5) scale(0.7918)"><text x="0" y="0" font-size="20" fill="#000" ><tspan y="0" font-style="italic">d</tspan><tspan font-size="14" y="5">emb</tspan><tspan y="0"> = 300</tspan></text></g>
<g transform="translate(516.2,41.75) scale(0.8687)"><text x="0" y="0" font-size="20" fill="#000" ><tspan y="0" font-style="italic">N</tspan><tspan font-size="14" y="5">dec</tspan><tspan y="0">= </tspan><tspan y="0" font-style="italic">N</tspan><tspan font-size="14" y="5" font-style="italic">h</tspan><tspan y="0"> = 1</tspan></text></g>
<g transform="translate(516.25,56.85) scale(0.6268)"><text x="0" y="0" font-size="20" fill="#000" >Training time: 06:31:58</text></g>
<g transform="translate(519.1,77.25) scale(0.7787)"><text x="0" y="0" font-size="20" fill="#000" ><tspan y="0" font-style="italic">n</tspan><tspan font-size="14" y="5" font-style="italic">U</tspan><tspan y="0"> = 4 × 10</tspan><tspan font-size="14" y="-8">3</tspan><tspan y="0">, </tspan><tspan y="0" font-style="italic">n</tspan><tspan font-size="14" y="-9" font-style="italic">f</tspan><tspan font-size="14" y="5" dx="-5" font-style="italic">U</tspan><tspan y="0"> = 1812</tspan></text></g>
<g transform="translate(517.2,92.5) scale(0.6673)"><text x="0" y="0" font-size="20" fill="#000" ><tspan y="0">#</tspan><tspan y="0" font-style="italic">θ</tspan><tspan y="0"> = 546904</tspan></text></g>
<g transform="translate(511.05,133.4) scale(0.7022)"><text x="0" y="0" font-size="20" fill="#000" ><tspan y="0">×10</tspan><tspan font-size="16" y="-5.2">−2</tspan></text></g>
<g transform="translate(514.75,143.8) scale(0.62)"><text x="0" y="0" font-size="20" fill="#000" >0</text></g>
<g transform="translate(507.4,180.45) scale(0.62)"><text x="0" y="0" font-size="20" fill="#000" >-0.1</text></g>
<g transform="translate(531.1,215.4) scale(0.62)"><text x="0" y="0" font-size="20" fill="#000" >0</text></g>
<g transform="translate(577.45,215.4) scale(0.62)"><text x="0" y="0" font-size="20" fill="#000" >5000</text></g>
<g transform="translate(631.25,215.4) scale(0.62)"><text x="0" y="0" font-size="20" fill="#000" >10000</text></g>
<g transform="translate(572.95,226.3) scale(0.6228)"><text x="0" y="0" font-size="20" fill="#000" >Epochs</text></g>
<g transform="translate(560.5,155.5) scale(0.7673)"><text x="0" y="0" font-size="20"  fill="#1a8f1a"><tspan y="0" font-style="italic">α</tspan><tspan y="0">√1 − </tspan><tspan y="0" font-style="italic">α</tspan><tspan font-size="14" y="-8">2</tspan><tspan y="0" font-style="italic"> E</tspan><tspan font-size="14" y="5" font-weight="bold">sRS</tspan></text><line x1="20.8" y1="-16.3" x2="71" y2="-16.3" stroke="#1a8f1a" stroke-width="1.1"/></g>
<g transform="translate(572.5,195.0) scale(0.75)"><text x="0" y="0" font-size="20"  fill="#6a6a6a"><tspan y="0">(1 − </tspan><tspan y="0" font-style="italic">α</tspan><tspan font-size="14" y="-8">2</tspan><tspan y="0">) </tspan><tspan y="0" font-style="italic">E</tspan><tspan font-size="14" y="5" font-weight="bold">ss′</tspan></text></g>
<g transform="translate(29.55,280.8) scale(1.1969)"><text x="0" y="0" font-size="20" fill="#000" ><tspan y="0" font-weight="bold">c</tspan></text></g>
<g transform="translate(27.3,391.75) scale(1.021) rotate(-90)"><text x="0" y="0" font-size="20" fill="#000" ><tspan y="0" font-style="italic">α</tspan></text></g>
<g transform="translate(30.8,308.3) scale(0.74)"><text x="0" y="0" font-size="20" fill="#000" >1.00</text></g>
<g transform="translate(31.8,361.6) scale(0.74)"><text x="0" y="0" font-size="20" fill="#000" >0.99</text></g>
<g transform="translate(31.8,416.8) scale(0.74)"><text x="0" y="0" font-size="20" fill="#000" >0.98</text></g>
<g transform="translate(31.8,470.7) scale(0.74)"><text x="0" y="0" font-size="20" fill="#000" >0.97</text></g>
<g transform="translate(66.95,490.9) scale(0.78)"><text x="0" y="0" font-size="20" fill="#000" >0</text></g>
<g transform="translate(102.6,490.9) scale(0.78)"><text x="0" y="0" font-size="20" fill="#000" >2000</text></g>
<g transform="translate(192.8,490.9) scale(0.78)"><text x="0" y="0" font-size="20" fill="#000" >6000</text></g>
<g transform="translate(279.8,490.9) scale(0.78)"><text x="0" y="0" font-size="20" fill="#000" >10000</text></g>
<g transform="translate(160.25,507.15) scale(0.7281)"><text x="0" y="0" font-size="20" fill="#000" >Epochs</text></g>
<g transform="translate(137.2,386.65) scale(0.63)"><text x="0" y="0" font-size="20" fill="#000" >0.1</text></g>
<g transform="translate(144.1,422.75) scale(0.63)"><text x="0" y="0" font-size="20" fill="#000" >0</text></g>
<g transform="translate(156.5,434.35) scale(0.63)"><text x="0" y="0" font-size="20" fill="#000" >0</text></g>
<g transform="translate(257.75,434.35) scale(0.63)"><text x="0" y="0" font-size="20" fill="#000" >10000</text></g>
<g transform="translate(199.95,442.85) scale(0.7561)"><text x="0" y="0" font-size="20" fill="#000" >Epochs</text></g>
<g transform="translate(195.3,346.7) scale(0.8986)"><text x="0" y="0" font-size="20"  fill="#1a8f1a"><tspan y="0" font-style="italic">α</tspan><tspan y="0">√1 − </tspan><tspan y="0" font-style="italic">α</tspan><tspan font-size="14" y="-8">2</tspan></text><line x1="20.8" y1="-16.3" x2="71" y2="-16.3" stroke="#1a8f1a" stroke-width="1.1"/></g>
<g transform="translate(208.35,400.3) scale(0.7492)"><text x="0" y="0" font-size="20"  fill="#6a6a6a"><tspan y="0">(1 − </tspan><tspan y="0" font-style="italic">α</tspan><tspan font-size="14" y="-8">2</tspan><tspan y="0">)</tspan></text></g>
<g transform="translate(381.0,280.65) scale(1.0817)"><text x="0" y="0" font-size="20" fill="#000" ><tspan y="0" font-weight="bold">d</tspan></text></g>
<g transform="translate(372.0,391.5) scale(1.0954) rotate(-90)"><text x="0" y="0" font-size="20" fill="#000" ><tspan y="0" font-style="italic">α</tspan></text></g>
<g transform="translate(391.75,306.65) scale(0.74)"><text x="0" y="0" font-size="20" fill="#000" >1.0</text></g>
<g transform="translate(392.75,361.85) scale(0.74)"><text x="0" y="0" font-size="20" fill="#000" >0.9</text></g>
<g transform="translate(392.75,416.65) scale(0.74)"><text x="0" y="0" font-size="20" fill="#000" >0.8</text></g>
<g transform="translate(392.75,471.15) scale(0.74)"><text x="0" y="0" font-size="20" fill="#000" >0.7</text></g>
<g transform="translate(459.3,492.4) scale(0.7)"><text x="0" y="0" font-size="20" fill="#000" >0.05</text></g>
<g transform="translate(542.95,492.4) scale(0.7)"><text x="0" y="0" font-size="20" fill="#000" >0.10</text></g>
<g transform="translate(625.85,492.4) scale(0.7)"><text x="0" y="0" font-size="20" fill="#000" >0.15</text></g>
<g transform="translate(526.45,511.65) scale(0.9932)"><text x="0" y="0" font-size="20" fill="#000" ><tspan y="0" font-style="italic">t</tspan><tspan y="0">/</tspan><tspan y="0" font-style="italic">U</tspan></text></g>
</svg></body></html>
